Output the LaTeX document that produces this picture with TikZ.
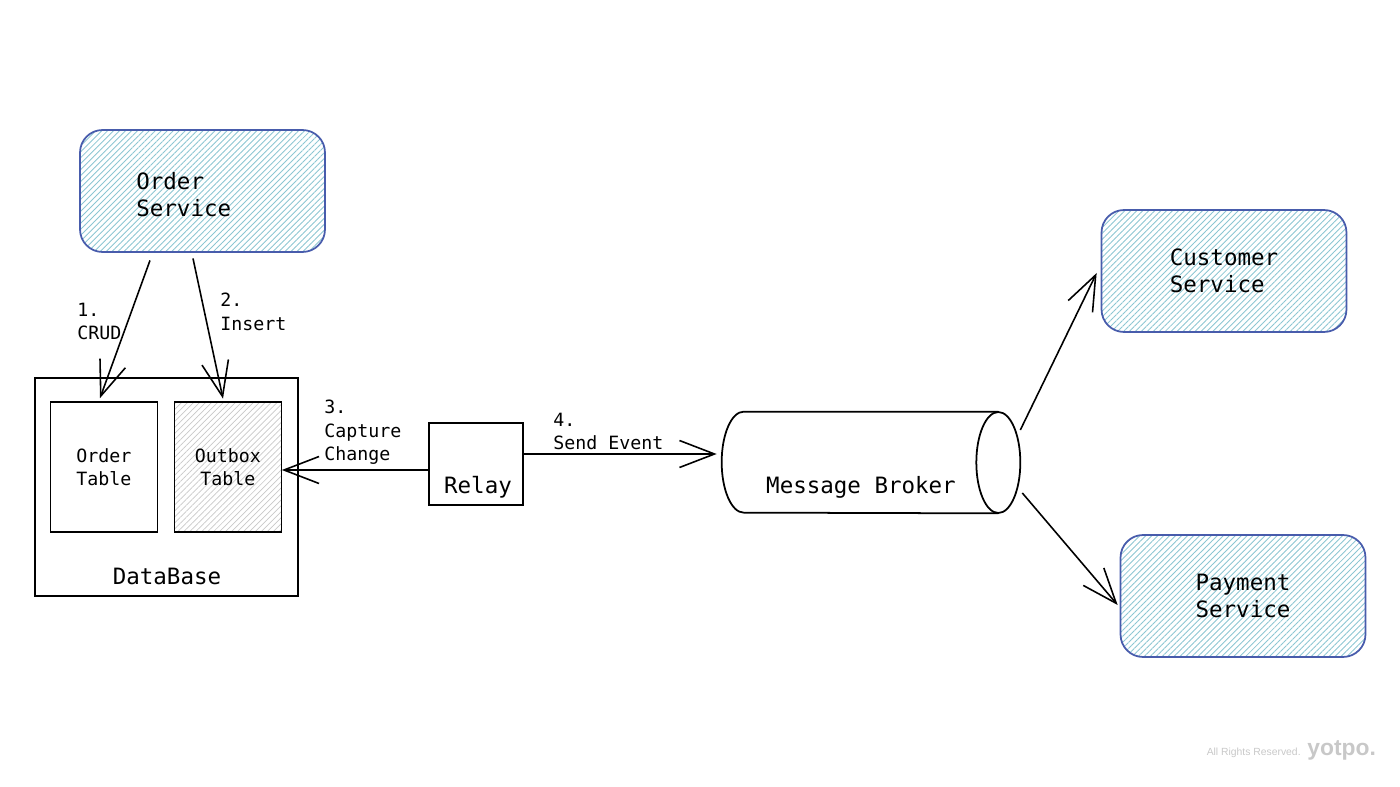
\documentclass[tikz,border=0pt]{standalone}
\usepackage{fontspec}
\setmonofont{DejaVu Sans Mono}
\newfontfamily\wmfont{Liberation Sans}
\usetikzlibrary{calc, positioning, arrows.meta, patterns.meta}

\definecolor{svcblue}{RGB}{72,92,172}
\definecolor{svchatch}{RGB}{140,198,210}
\definecolor{tblhatch}{RGB}{200,200,200}
\definecolor{wmgray}{RGB}{200,200,200}

\newcommand{\bigmono}{\ttfamily\fontsize{12.8}{15.5}\selectfont}
\newcommand{\smallmono}{\ttfamily\fontsize{10.4}{13.2}\selectfont}

\tikzset{
  service/.style={draw=svcblue, line width=1pt, rounded corners=0.45cm,
    minimum width=4.9cm, minimum height=2.44cm,
    pattern={Lines[angle=45,distance=2.4pt,line width=0.5pt]}, pattern color=svchatch,
    align=left, font=\bigmono},
  box/.style={draw, line width=1pt, inner sep=0pt},
  tbl/.style={box, minimum width=2.14cm, minimum height=2.6cm, align=center, font=\smallmono},
  outboxfill/.style={pattern={Lines[angle=45,distance=2.4pt,line width=0.4pt]}, pattern color=tblhatch},
  bigtext/.style={inner sep=0pt, font=\bigmono},
  steptext/.style={inner sep=0pt, align=left, font=\smallmono, anchor=north west},
  flow/.style={line width=0.9pt, -{Straight Barb[length=0.7cm,width=0.54cm,line width=0.9pt]}}
}

\begin{document}
\begin{tikzpicture}[x=0.02cm, y=-0.02cm]
  \useasboundingbox (0,0) rectangle (1400,787);

  % Services
  \node[service] (order) at (202.5,191) {};
  \node[bigtext, align=left, anchor=west] (ordertext) at (136,195) {Order\\Service};
  \node[service] (customer) at (1224,271) {Customer\\Service};
  \node[service] (payment) at (1243,596) {Payment\\Service};

  % Database with tables
  \node[box, minimum width=5.26cm, minimum height=4.36cm] (db) at (166.5,487) {};
  \node[tbl] (otable) at (104,467) {Order\\Table};
  \node[tbl, outboxfill] (outbox) at (228,467) {Outbox\\Table};
  \node[bigtext] (dblabel) at (167,576) {DataBase};

  % Relay
  \node[box, minimum width=1.88cm, minimum height=1.64cm] (relay) at (476,464) {};
  \node[bigtext] (relaylabel) at (478,487) {Relay};

  % Message broker (cylinder)
  \node[inner sep=0pt, minimum width=5.96cm, minimum height=2.02cm] (broker) at (871,462.5) {};
  \draw[line width=1pt] ($(broker.north east)+(-22,0)$) -- ($(broker.north west)+(22,0)$)
    arc[start angle=90, end angle=270, x radius=0.44cm, y radius=1.01cm]
    -- ($(broker.south east)+(-22,0)$);
  \draw[line width=1pt] ($(broker.east)+(-22,0)$) ellipse[x radius=0.44cm, y radius=1.01cm];
  \node[bigtext] (brokerlabel) at (861,487) {Message Broker};

  % Arrows
  \draw[flow] ($(order.south)+(-52.5,8)$) -- ($(otable.north)+(-4,-3)$);
  \draw[flow] ($(order.south)+(-9.5,6)$) -- ($(outbox.north)+(-5,-3)$);
  \draw[flow] ($(relay.west)+(0,6)$) -- ($(outbox.east)+(0,3)$);
  \draw[flow] ($(relay.east)+(0,-10)$) -- ($(broker.west)+(-5,-8.5)$);
  \draw[flow] ($(broker.east)+(0,-32.5)$) -- ($(customer.west)+(-4,2)$);
  \draw[flow] ($(broker.east)+(2,30.5)$) -- ($(payment.west)+(-2,9)$);

  % Step labels
  \node[steptext] (crud) at (77,303) {1.\\CRUD};
  \node[steptext] (insert) at (220,293) {2.\\Insert};
  \node[steptext] (capture) at (324,400) {3.\\Capture\\Change};
  \node[steptext] (send) at (553,413) {4.\\Send Event};

  % Watermark
  \node[inner sep=0pt, anchor=east, text=wmgray, font=\wmfont\fontsize{5.9}{7}\selectfont] (rights) at (1301,753) {All Rights Reserved.};
  \node[inner sep=0pt, anchor=west, text=wmgray, font=\wmfont\bfseries\fontsize{13}{15}\selectfont] (yotpo) at (1307,750) {yotpo.};
\end{tikzpicture}
\end{document}
